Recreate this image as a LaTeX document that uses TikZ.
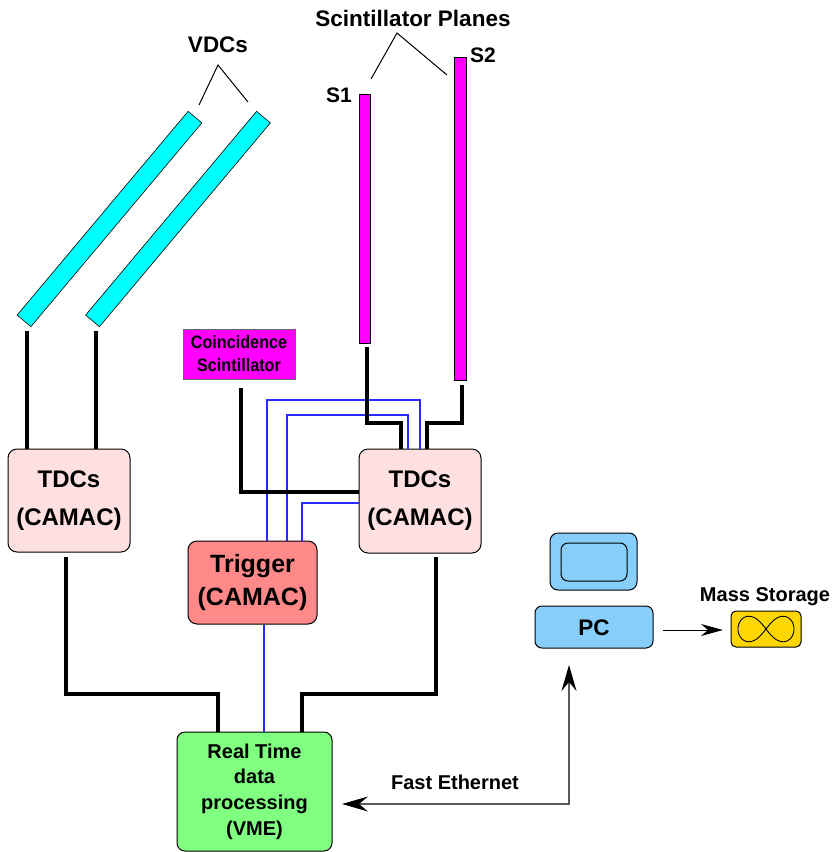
\documentclass[tikz,border=0pt]{standalone}
\usepackage{fontspec}
\setmainfont{Liberation Sans}
\usetikzlibrary{arrows.meta,calc}
\definecolor{vdccyan}{RGB}{0,255,255}
\definecolor{scimag}{RGB}{255,0,255}
\definecolor{tdcpink}{RGB}{255,224,224}
\definecolor{trigred}{RGB}{255,136,136}
\definecolor{vmegreen}{RGB}{128,255,128}
\definecolor{pcblue}{RGB}{135,206,250}
\definecolor{storegold}{RGB}{255,215,0}
\definecolor{wireblue}{RGB}{40,40,255}
\begin{document}
\begin{tikzpicture}[x=1pt,y=-1pt,
  box/.style={draw=black, line width=1pt, rounded corners=9pt, inner sep=0pt, align=center},
  bar/.style={draw=black, line width=0.6pt, inner sep=0pt},
  sig/.style={line width=3.6pt},
  wire/.style={draw=wireblue, line width=1.1pt},
  thinline/.style={line width=1pt},
  lbl/.style={inner sep=0pt, anchor=base}
]
\useasboundingbox (0,0) rectangle (834,852);

% detectors
\node[bar, fill=vdccyan, minimum width=266pt, minimum height=18pt, rotate=50] (vdcA) at (109.5,219) {};
\node[bar, fill=vdccyan, minimum width=266pt, minimum height=18pt, rotate=50] (vdcB) at (178,219) {};
\node[bar, fill=scimag, minimum width=11pt, minimum height=249pt] (sA) at (364.5,218.5) {};
\node[bar, fill=scimag, minimum width=12pt, minimum height=323pt] (sB) at (460,218.5) {};
\node[draw=black!60, line width=1pt, fill=scimag, minimum width=112pt, minimum height=50pt, inner sep=0pt,
      align=center, font=\bfseries\fontsize{18}{23}\selectfont\addfontfeature{FakeStretch=0.9}] (coinc) at (239,354) {Coincidence\\Scintillator};

% labels
\node[lbl, font=\bfseries\fontsize{22.5}{26}\selectfont] (vdclbl) at (218,52) {VDCs};
\node[lbl, font=\bfseries\fontsize{22.5}{26}\selectfont] (scilbl) at (413,26) {Scintillator Planes};
\node[lbl, font=\bfseries\fontsize{21}{26}\selectfont] (s1lbl) at (339,102) {S1};
\node[lbl, font=\bfseries\fontsize{21}{26}\selectfont] (s2lbl) at (483,62) {S2};

\coordinate (vdcpeak) at (218,65);
\coordinate (vdcL) at (199,105);
\coordinate (vdcR) at (248,102);
\draw[thinline] (vdcL) -- (vdcpeak) -- (vdcR);
\coordinate (scipeak) at (397,33);
\coordinate (sciL) at (371,79);
\coordinate (sciR) at (447,75);
\draw[thinline] (sciL) -- (scipeak) -- (sciR);

% electronics
\node[box, fill=tdcpink, minimum width=122pt, minimum height=103pt, font=\bfseries\fontsize{24}{38}\selectfont] (tdcL) at (69,500.5) {TDCs\\(CAMAC)};
\node[box, fill=tdcpink, minimum width=122pt, minimum height=104pt, font=\bfseries\fontsize{24}{38}\selectfont] (tdcR) at (420,501) {TDCs\\(CAMAC)};
\node[box, fill=trigred, minimum width=129pt, minimum height=83pt, font=\bfseries\fontsize{25}{33}\selectfont] (trig) at (252.5,582.5) {Trigger\\(CAMAC)};
\node[box, fill=vmegreen, minimum width=155pt, minimum height=119pt, rounded corners=8pt, font=\bfseries\fontsize{20}{25.7}\selectfont] (vme) at (254.5,791.5) {Real Time\\data\\processing\\(VME)};

% PC
\node[box, fill=pcblue, minimum width=87pt, minimum height=57pt, rounded corners=8pt] (mon) at (593.5,561.5) {};
\node[box, fill=pcblue, minimum width=66pt, minimum height=38pt, rounded corners=7pt] (screen) at (594,562) {};
\node[box, fill=pcblue, minimum width=118pt, minimum height=42pt, rounded corners=7pt] (pc) at (594,627) {};
\node[lbl, font=\bfseries\fontsize{22.5}{26}\selectfont] (pclbl) at (594,635) {PC};

% storage
\node[box, fill=storegold, minimum width=70pt, minimum height=36pt, rounded corners=5pt] (store) at (766,629) {};
\draw[line width=0.9pt, shift={(store.center)}] plot[domain=0:360, samples=120, smooth cycle]
  ({28*cos(\x)/(1+sin(\x)^2)}, {36*sin(\x)*cos(\x)/(1+sin(\x)^2)});
\node[lbl, font=\bfseries\fontsize{20}{24}\selectfont] (storelbl) at (765,601) {Mass Storage};

% blue trigger wires
\coordinate (bA) at (267,400);
\coordinate (bAe) at (420,400);
\coordinate (bB) at (287,415);
\coordinate (bBe) at (408,415);
\coordinate (bC) at (302,503);
\draw[wire] (bA |- trig.north) -- (bA) -- (bAe) -- (bAe |- tdcR.north);
\draw[wire] (bB |- trig.north) -- (bB) -- (bBe) -- (bBe |- tdcR.north);
\draw[wire] (bC |- trig.north) -- (bC) -- (bC -| tdcR.west);
\coordinate (bD) at (264,0);
\draw[wire] (bD |- trig.south) -- (bD |- vme.north);

% black signal lines
\coordinate (va) at (27,331);
\coordinate (vb) at (96,331);
\draw[sig] (va) -- (va |- tdcL.north);
\draw[sig] (vb) -- (vb |- tdcL.north);
\coordinate (s1o) at (367,347);
\coordinate (s1b) at (401,423);
\draw[sig] (s1o) |- (s1b) -- (s1b |- tdcR.north);
\coordinate (s2o) at (462,385);
\coordinate (s2b) at (427,423);
\draw[sig] (s2o) |- (s2b) -- (s2b |- tdcR.north);
\coordinate (co) at (241,388);
\coordinate (cb) at (241,492);
\draw[sig] (co) -- (cb) -- (cb -| tdcR.west);
\coordinate (tl) at (66,557);
\coordinate (tlb) at (218,694);
\draw[sig] (tl) |- (tlb) -- (tlb |- vme.north);
\coordinate (tr) at (436,557);
\coordinate (trb) at (302,694);
\draw[sig] (tr) |- (trb) -- (trb |- vme.north);

% network
\coordinate (ethL) at (342,804);
\coordinate (ethU) at (569,665);
\draw[draw=black!65, line width=1.3pt,
  {Stealth[length=26pt,width=15pt,inset=9pt,color=black]}-{Stealth[length=26pt,width=15pt,inset=9pt,color=black]}]
  (ethL) -| (ethU);
\node[lbl, font=\bfseries\fontsize{20}{24}\selectfont] (ethlbl) at (455,789) {Fast Ethernet};
\coordinate (pcs) at (663,630);
\draw[line width=1pt, -{Stealth[length=22pt,width=12pt,inset=7pt]}] (pcs) -- (pcs -| 723,0);
\end{tikzpicture}
\end{document}
